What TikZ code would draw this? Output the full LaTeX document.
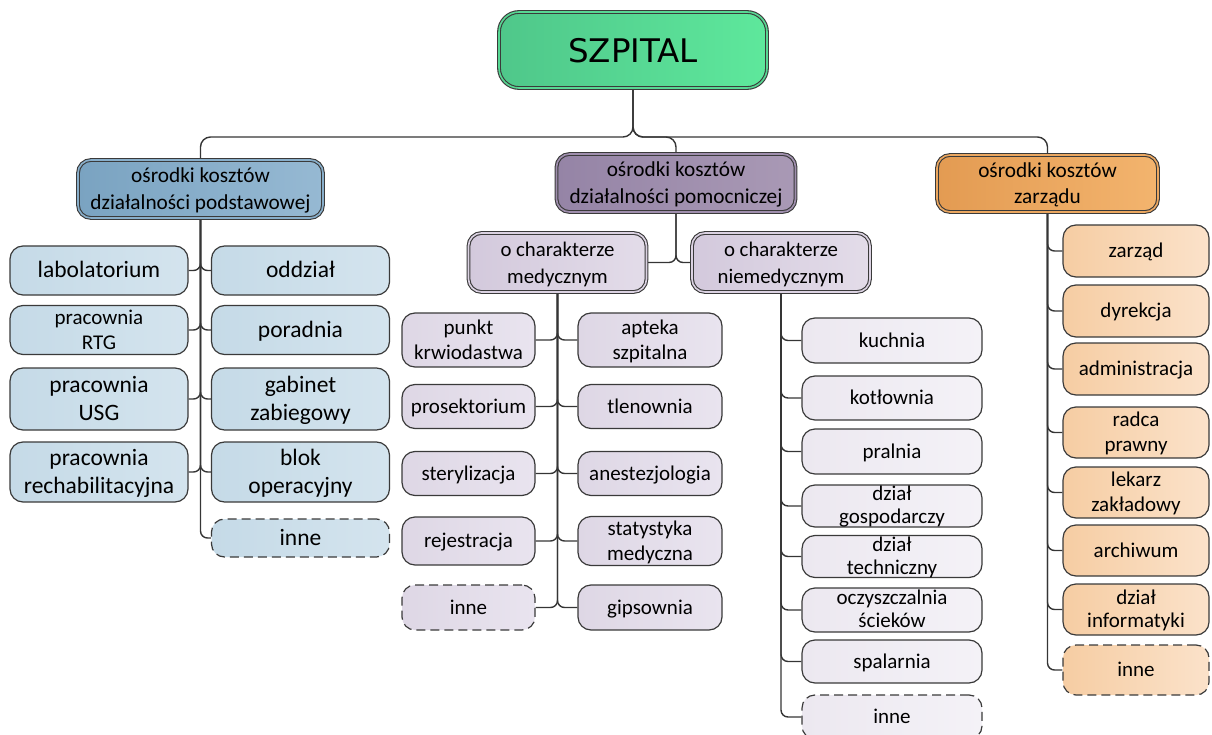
\documentclass[tikz,border=0pt]{standalone}
\usepackage{fontspec}
\setmainfont{Carlito}
\newfontfamily\djv{DejaVu Sans}
\usetikzlibrary{backgrounds}
\definecolor{lc}{HTML}{353535}
\definecolor{bc}{HTML}{3A3A3A}
\definecolor{g1}{HTML}{4FC78A}\definecolor{g2}{HTML}{5EE89C}
\definecolor{bh1}{HTML}{7AA3C1}\definecolor{bh2}{HTML}{96B9D3}
\definecolor{bl1}{HTML}{C5DAE7}\definecolor{bl2}{HTML}{D4E4EE}
\definecolor{ph1}{HTML}{9584A6}\definecolor{ph2}{HTML}{A999B5}
\definecolor{ps1}{HTML}{D3C9DC}\definecolor{ps2}{HTML}{E3DCE9}
\definecolor{pm1}{HTML}{DED7E5}\definecolor{pm2}{HTML}{E9E4EF}
\definecolor{pn1}{HTML}{ECE8F0}\definecolor{pn2}{HTML}{F4F2F7}
\definecolor{oh1}{HTML}{E39B52}\definecolor{oh2}{HTML}{F3B46E}
\definecolor{ol1}{HTML}{F6CDA3}\definecolor{ol2}{HTML}{FBE2CA}
\newcommand\ovl[1]{\raisebox{-0.33em}[0pt][0pt]{\begin{tabular}[c]{@{}c@{}}#1\end{tabular}}}
\tikzset{
  conn/.style={draw=lc, line width=1.4pt, rounded corners=7pt},
  box/.style={rounded corners=13pt, draw=bc, line width=1.2pt, inner sep=0pt},
  hdr/.style={box, double distance=1.6pt, line width=1.1pt},
  dsh/.style={dash pattern=on 9pt off 5pt},
  szbox/.style={hdr, rounded corners=20pt, left color=g1, right color=g2, double=g1!50!g2,
    minimum width=268pt, minimum height=76pt, font=\djv\fontsize{32.5}{38}\selectfont},
  hfont/.style={font=\fontsize{21.3}{26.5}\selectfont},
  blueH/.style={hdr, hfont, left color=bh1, right color=bh2, double=bh1!50!bh2},
  purpH/.style={hdr, hfont, left color=ph1, right color=ph2, double=ph1!50!ph2},
  oranH/.style={hdr, hfont, left color=oh1, right color=oh2, double=oh1!50!oh2},
  subH/.style={hdr, font=\fontsize{20.8}{27}\selectfont, left color=ps1, right color=ps2, double=ps1!50!ps2,
    minimum width=178pt, minimum height=59pt},
  bleaf/.style={box, left color=bl1, right color=bl2, minimum width=178pt, font=\fontsize{23.5}{28}\selectfont},
  mleaf/.style={box, left color=pm1, right color=pm2, font=\fontsize{21}{25}\selectfont},
  nleaf/.style={box, left color=pn1, right color=pn2, minimum width=180pt, font=\fontsize{21}{25}\selectfont},
  oleaf/.style={box, left color=ol1, right color=ol2, minimum width=146pt, font=\fontsize{21}{25}\selectfont},
}
\begin{document}
\begin{tikzpicture}[x=1pt,y=-1pt]
\useasboundingbox (0,0) rectangle (1212,735);
% top
\node[szbox] (sz) at (633,50) {\ovl{SZPITAL}};
\node[blueH, minimum width=245pt, minimum height=58pt] (hL) at (200.5,189) {\ovl{ośrodki kosztów\\działalności podstawowej}};
\node[purpH, minimum width=239pt, minimum height=58pt] (hM) at (676,183) {\ovl{ośrodki kosztów\\działalności pomocniczej}};
\node[oranH, minimum width=221pt, minimum height=57pt] (hR) at (1047.5,183.5) {\ovl{ośrodki kosztów\\zarządu}};
\node[subH] (med) at (557.5,262.5) {\ovl{o charakterze\\medycznym}};
\node[subH] (non) at (781,262.5) {\ovl{o charakterze\\niemedycznym}};
% left column
\node[bleaf, minimum height=49pt] (lab) at (99,270.5) {\ovl{labolatorium}};
\node[bleaf, minimum height=49pt, font=\fontsize{21}{25}\selectfont] (rtg) at (99,330) {\ovl{pracownia\\RTG}};
\node[bleaf, minimum height=62pt] (usg) at (99,399) {\ovl{pracownia\\USG}};
\node[bleaf, minimum height=60pt] (reh) at (99,472) {\ovl{pracownia\\rechabilitacyjna}};
\node[bleaf, minimum height=49pt] (odd) at (300.5,270.5) {\ovl{oddział}};
\node[bleaf, minimum height=49pt] (por) at (300.5,330) {\ovl{poradnia}};
\node[bleaf, minimum height=62pt] (gab) at (300.5,399) {\ovl{gabinet\\zabiegowy}};
\node[bleaf, minimum height=60pt] (blok) at (300.5,472) {\ovl{blok\\operacyjny}};
\node[bleaf, dsh, minimum height=38pt] (inL) at (300.5,538) {\ovl{inne}};
% medical
\node[mleaf, minimum width=133pt, minimum height=54pt] (punkt) at (468.5,340) {\ovl{punkt\\krwiodastwa}};
\node[mleaf, minimum width=133pt, minimum height=44pt] (pros) at (468.5,406.5) {\ovl{prosektorium}};
\node[mleaf, minimum width=133pt, minimum height=44pt] (ster) at (468.5,473.5) {\ovl{sterylizacja}};
\node[mleaf, minimum width=133pt, minimum height=48pt] (rej) at (468.5,541) {\ovl{rejestracja}};
\node[mleaf, dsh, minimum width=133pt, minimum height=45pt] (inM) at (468.5,607.5) {\ovl{inne}};
\node[mleaf, minimum width=144pt, minimum height=54pt] (apt) at (650,340) {\ovl{apteka\\szpitalna}};
\node[mleaf, minimum width=144pt, minimum height=44pt] (tlen) at (650,406.5) {\ovl{tlenownia}};
\node[mleaf, minimum width=144pt, minimum height=44pt] (anes) at (650,473.5) {\ovl{anestezjologia}};
\node[mleaf, minimum width=144pt, minimum height=49pt] (stat) at (650,541) {\ovl{statystyka\\medyczna}};
\node[mleaf, minimum width=144pt, minimum height=45pt] (gips) at (650,607.5) {\ovl{gipsownia}};
% non-medical
\node[nleaf, minimum height=45pt] (kuch) at (892,340.5) {\ovl{kuchnia}};
\node[nleaf, minimum height=44pt] (kotl) at (892,398) {\ovl{kotłownia}};
\node[nleaf, minimum height=45pt] (pral) at (892,451.5) {\ovl{pralnia}};
\node[nleaf, minimum height=42pt, font=\fontsize{21}{22.5}\selectfont] (gosp) at (892,506) {\ovl{dział\\gospodarczy}};
\node[nleaf, minimum height=42pt, font=\fontsize{21}{23.5}\selectfont] (tech) at (892,556.5) {\ovl{dział\\techniczny}};
\node[nleaf, minimum height=44pt, font=\fontsize{21}{23}\selectfont] (oczy) at (892,610) {\ovl{oczyszczalnia\\ścieków}};
\node[nleaf, minimum height=43pt] (spal) at (892,661.5) {\ovl{spalarnia}};
\node[nleaf, dsh, minimum height=44pt] (inN) at (892,717) {\ovl{inne}};
% management
\node[oleaf, minimum height=52pt] (zar) at (1136,251) {\ovl{zarząd}};
\node[oleaf, minimum height=52pt] (dyr) at (1136,311) {\ovl{dyrekcja}};
\node[oleaf, minimum height=52pt] (adm) at (1136,369) {\ovl{administracja}};
\node[oleaf, minimum height=51pt] (radca) at (1136,432.5) {\ovl{radca\\prawny}};
\node[oleaf, minimum height=51pt] (lek) at (1136,492.5) {\ovl{lekarz\\zakładowy}};
\node[oleaf, minimum height=51pt] (arch) at (1136,550.5) {\ovl{archiwum}};
\node[oleaf, minimum height=51pt, font=\fontsize{21}{23.5}\selectfont] (dinf) at (1136,609.5) {\ovl{dział\\informatyki}};
\node[oleaf, dsh, minimum height=50pt] (inR) at (1136,670) {\ovl{inne}};
% connectors
\coordinate (j) at (633,137);
\begin{pgfonlayer}{background}
\draw[conn, rounded corners=10pt] (sz.south) -- (j) -| (hL.north);
\draw[conn, rounded corners=10pt] (sz.south) -- (j) -| (hM.north);
\draw[conn, rounded corners=10pt] (sz.south) -- (j) -| (hR.north);
\draw[conn] (hM.south) |- (med.east);
\draw[conn] (hM.south) |- (non.west);
\foreach \n in {lab,rtg,usg,reh} \draw[conn] (hL.south) |- (\n.east);
\foreach \n in {odd,por,gab,blok,inL} \draw[conn] (hL.south) |- (\n.west);
\foreach \n in {punkt,pros,ster,rej,inM} \draw[conn] (med.south) |- (\n.east);
\foreach \n in {apt,tlen,anes,stat,gips} \draw[conn] (med.south) |- (\n.west);
\foreach \n in {kuch,kotl,pral,gosp,tech,oczy,spal,inN} \draw[conn] (non.south) |- (\n.west);
\foreach \n in {zar,dyr,adm,radca,lek,arch,dinf,inR} \draw[conn] (hR.south) |- (\n.west);
\end{pgfonlayer}
\end{tikzpicture}
\end{document}
